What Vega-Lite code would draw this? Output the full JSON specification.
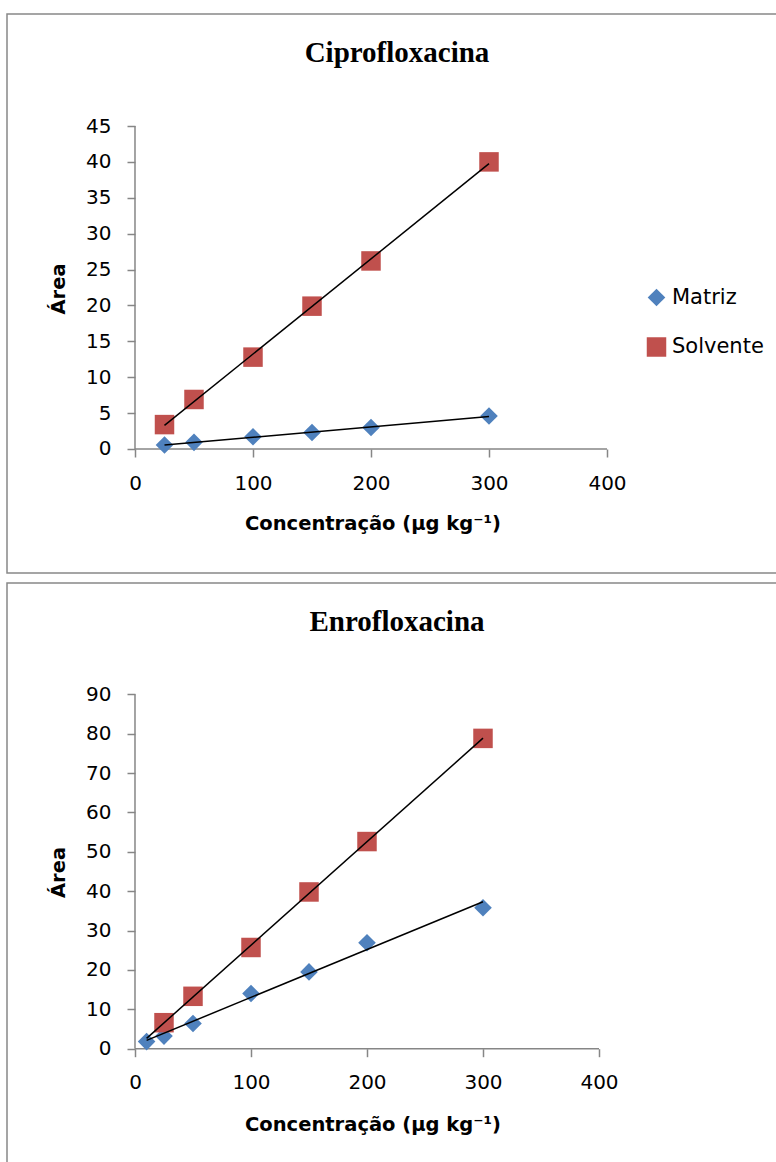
{
  "$schema": "https://vega.github.io/schema/vega-lite/v6.json",
  "padding": {"left": 6, "top": 13, "right": 0, "bottom": 0},
  "spacing": 10,
  "bounds": "flush",
  "datasets": {
    "cipro": [
      {"serie": "Matriz", "conc": 25, "area": 0.56},
      {"serie": "Matriz", "conc": 50, "area": 0.93},
      {"serie": "Matriz", "conc": 100, "area": 1.7},
      {"serie": "Matriz", "conc": 150, "area": 2.3},
      {"serie": "Matriz", "conc": 200, "area": 3.0},
      {"serie": "Matriz", "conc": 300, "area": 4.6},
      {"serie": "Solvente", "conc": 25, "area": 3.4},
      {"serie": "Solvente", "conc": 50, "area": 6.9},
      {"serie": "Solvente", "conc": 100, "area": 12.8},
      {"serie": "Solvente", "conc": 150, "area": 19.9},
      {"serie": "Solvente", "conc": 200, "area": 26.2},
      {"serie": "Solvente", "conc": 300, "area": 40.0}
    ],
    "enro": [
      {"serie": "Matriz", "conc": 10, "area": 1.8},
      {"serie": "Matriz", "conc": 25, "area": 3.2},
      {"serie": "Matriz", "conc": 50, "area": 6.4},
      {"serie": "Matriz", "conc": 100, "area": 14.0},
      {"serie": "Matriz", "conc": 150, "area": 19.5},
      {"serie": "Matriz", "conc": 200, "area": 26.9},
      {"serie": "Matriz", "conc": 300, "area": 35.8},
      {"serie": "Solvente", "conc": 25, "area": 6.6},
      {"serie": "Solvente", "conc": 50, "area": 13.3},
      {"serie": "Solvente", "conc": 100, "area": 25.7},
      {"serie": "Solvente", "conc": 150, "area": 39.8},
      {"serie": "Solvente", "conc": 200, "area": 52.6},
      {"serie": "Solvente", "conc": 300, "area": 78.8}
    ]
  },
  "vconcat": [
    {
      "width": 780,
      "height": 559,
      "title": {"text": "Ciprofloxacina"},
      "layer": [
        {
          "data": {"values": [{}]},
          "mark": {"type": "rule", "color": "#868686", "strokeWidth": 1.5},
          "encoding": {
            "x": {"datum": 0, "type": "quantitative", "scale": {"domain": [-108.47, 552.54], "nice": false, "zero": false},
              "axis": {"values": [0, 100, 200, 300, 400], "offset": -124, "titleX": 365.5, "titleY": 74.5, "title": "Concentração (µg kg⁻¹)"}},
            "x2": {"datum": 400},
            "y": {"datum": 0, "type": "quantitative", "scale": {"domain": [-17.276, 60.604], "nice": false, "zero": false},
              "axis": {"values": [0, 5, 10, 15, 20, 25, 30, 35, 40, 45], "offset": -128, "titleX": -77, "titleY": 274.5, "title": "Área"}}
          }
        },
        {
          "data": {"values": [{}]},
          "mark": {"type": "rule", "color": "#868686", "strokeWidth": 1.5},
          "encoding": {
            "x": {"datum": 0, "type": "quantitative", "scale": {"domain": [-108.47, 552.54], "nice": false, "zero": false},
              "axis": {"values": [0, 100, 200, 300, 400], "offset": -124, "titleX": 365.5, "titleY": 74.5, "title": "Concentração (µg kg⁻¹)"}},
            "y": {"datum": 0, "type": "quantitative", "scale": {"domain": [-17.276, 60.604], "nice": false, "zero": false},
              "axis": {"values": [0, 5, 10, 15, 20, 25, 30, 35, 40, 45], "offset": -128, "titleX": -77, "titleY": 274.5, "title": "Área"}},
            "y2": {"datum": 45}
          }
        },
        {
          "data": {"name": "cipro"},
          "mark": {"type": "point", "filled": true, "opacity": 1, "strokeWidth": 0},
          "encoding": {
            "x": {"field": "conc", "type": "quantitative", "scale": {"domain": [-108.47, 552.54], "nice": false, "zero": false},
              "axis": {"values": [0, 100, 200, 300, 400], "offset": -124, "titleX": 365.5, "titleY": 74.5, "title": "Concentração (µg kg⁻¹)"}},
            "y": {"field": "area", "type": "quantitative", "scale": {"domain": [-17.276, 60.604], "nice": false, "zero": false},
              "axis": {"values": [0, 5, 10, 15, 20, 25, 30, 35, 40, 45], "offset": -128, "titleX": -77, "titleY": 274.5, "title": "Área"}},
            "color": {"field": "serie", "type": "nominal", "scale": {"domain": ["Matriz", "Solvente"], "range": ["#4F81BD", "#C0504D"]},
              "legend": {"orient": "none", "legendX": 639, "legendY": 273, "title": null}},
            "shape": {"field": "serie", "type": "nominal", "scale": {"domain": ["Matriz", "Solvente"], "range": ["diamond", "square"]},
              "legend": {"orient": "none", "legendX": 639, "legendY": 273, "title": null}},
            "size": {"field": "serie", "type": "nominal", "scale": {"domain": ["Matriz", "Solvente"], "range": [310, 380]}, "legend": null}
          }
        },
        {
          "data": {"name": "cipro"},
          "transform": [{"regression": "area", "on": "conc", "groupby": ["serie"], "extent": [25, 300]}],
          "mark": {"type": "line", "color": "black", "strokeWidth": 1.5},
          "encoding": {
            "x": {"field": "conc", "type": "quantitative", "scale": {"domain": [-108.47, 552.54], "nice": false, "zero": false},
              "axis": {"values": [0, 100, 200, 300, 400], "offset": -124, "titleX": 365.5, "titleY": 74.5, "title": "Concentração (µg kg⁻¹)"}},
            "y": {"field": "area", "type": "quantitative", "scale": {"domain": [-17.276, 60.604], "nice": false, "zero": false},
              "axis": {"values": [0, 5, 10, 15, 20, 25, 30, 35, 40, 45], "offset": -128, "titleX": -77, "titleY": 274.5, "title": "Área"}},
            "detail": {"field": "serie", "type": "nominal"}
          }
        }
      ]
    },
    {
      "width": 780,
      "height": 590,
      "title": {"text": "Enrofloxacina"},
      "layer": [
        {
          "data": {"values": [{}]},
          "mark": {"type": "rule", "color": "#868686", "strokeWidth": 1.5},
          "encoding": {
            "x": {"datum": 0, "type": "quantitative", "scale": {"domain": [-110.34, 562.07], "nice": false, "zero": false},
              "axis": {"values": [0, 100, 200, 300, 400], "offset": -124.3, "titleX": 365.5, "titleY": 75.5, "title": "Concentração (µg kg⁻¹)"}},
            "x2": {"datum": 400},
            "y": {"datum": 0, "type": "quantitative", "scale": {"domain": [-31.57, 118.26], "nice": false, "zero": false},
              "axis": {"values": [0, 10, 20, 30, 40, 50, 60, 70, 80, 90], "offset": -128, "titleX": -77, "titleY": 289, "title": "Área"}}
          }
        },
        {
          "data": {"values": [{}]},
          "mark": {"type": "rule", "color": "#868686", "strokeWidth": 1.5},
          "encoding": {
            "x": {"datum": 0, "type": "quantitative", "scale": {"domain": [-110.34, 562.07], "nice": false, "zero": false},
              "axis": {"values": [0, 100, 200, 300, 400], "offset": -124.3, "titleX": 365.5, "titleY": 75.5, "title": "Concentração (µg kg⁻¹)"}},
            "y": {"datum": 0, "type": "quantitative", "scale": {"domain": [-31.57, 118.26], "nice": false, "zero": false},
              "axis": {"values": [0, 10, 20, 30, 40, 50, 60, 70, 80, 90], "offset": -128, "titleX": -77, "titleY": 289, "title": "Área"}},
            "y2": {"datum": 90}
          }
        },
        {
          "data": {"name": "enro"},
          "mark": {"type": "point", "filled": true, "opacity": 1, "strokeWidth": 0},
          "encoding": {
            "x": {"field": "conc", "type": "quantitative", "scale": {"domain": [-110.34, 562.07], "nice": false, "zero": false},
              "axis": {"values": [0, 100, 200, 300, 400], "offset": -124.3, "titleX": 365.5, "titleY": 75.5, "title": "Concentração (µg kg⁻¹)"}},
            "y": {"field": "area", "type": "quantitative", "scale": {"domain": [-31.57, 118.26], "nice": false, "zero": false},
              "axis": {"values": [0, 10, 20, 30, 40, 50, 60, 70, 80, 90], "offset": -128, "titleX": -77, "titleY": 289, "title": "Área"}},
            "color": {"field": "serie", "type": "nominal", "scale": {"domain": ["Matriz", "Solvente"], "range": ["#4F81BD", "#C0504D"]},
              "legend": {"orient": "none", "legendX": 639, "legendY": 288, "title": null}},
            "shape": {"field": "serie", "type": "nominal", "scale": {"domain": ["Matriz", "Solvente"], "range": ["diamond", "square"]},
              "legend": {"orient": "none", "legendX": 639, "legendY": 288, "title": null}},
            "size": {"field": "serie", "type": "nominal", "scale": {"domain": ["Matriz", "Solvente"], "range": [310, 380]}, "legend": null}
          }
        },
        {
          "data": {"name": "enro"},
          "transform": [{"regression": "area", "on": "conc", "groupby": ["serie"], "extent": [10, 300]}],
          "mark": {"type": "line", "color": "black", "strokeWidth": 1.5},
          "encoding": {
            "x": {"field": "conc", "type": "quantitative", "scale": {"domain": [-110.34, 562.07], "nice": false, "zero": false},
              "axis": {"values": [0, 100, 200, 300, 400], "offset": -124.3, "titleX": 365.5, "titleY": 75.5, "title": "Concentração (µg kg⁻¹)"}},
            "y": {"field": "area", "type": "quantitative", "scale": {"domain": [-31.57, 118.26], "nice": false, "zero": false},
              "axis": {"values": [0, 10, 20, 30, 40, 50, 60, 70, 80, 90], "offset": -128, "titleX": -77, "titleY": 289, "title": "Área"}},
            "detail": {"field": "serie", "type": "nominal"}
          }
        }
      ]
    }
  ],
  "config": {
    "view": {"stroke": "#888888", "strokeWidth": 1.5},
    "title": {"font": "Liberation Serif", "fontSize": 29, "fontWeight": "bold", "color": "black", "offset": -54, "anchor": "middle"},
    "axis": {
      "domain": false, "grid": false, "tickSize": 8, "tickColor": "#868686", "tickWidth": 1.5,
      "labelFont": "DejaVu Sans", "labelFontSize": 20, "labelColor": "black", "labelPadding": 16,
      "labelFlush": false, "labelOverlap": false,
      "titleFont": "DejaVu Sans", "titleFontSize": 19.5, "titleFontWeight": "bold", "titleColor": "black",
      "titleAlign": "center", "titleBaseline": "middle"
    },
    "legend": {
      "labelFont": "DejaVu Sans", "labelFontSize": 21, "labelColor": "black", "labelOffset": 5,
      "symbolSize": 300, "symbolStrokeWidth": 0, "symbolOpacity": 1, "rowPadding": 27.5, "padding": 0
    }
  }
}
